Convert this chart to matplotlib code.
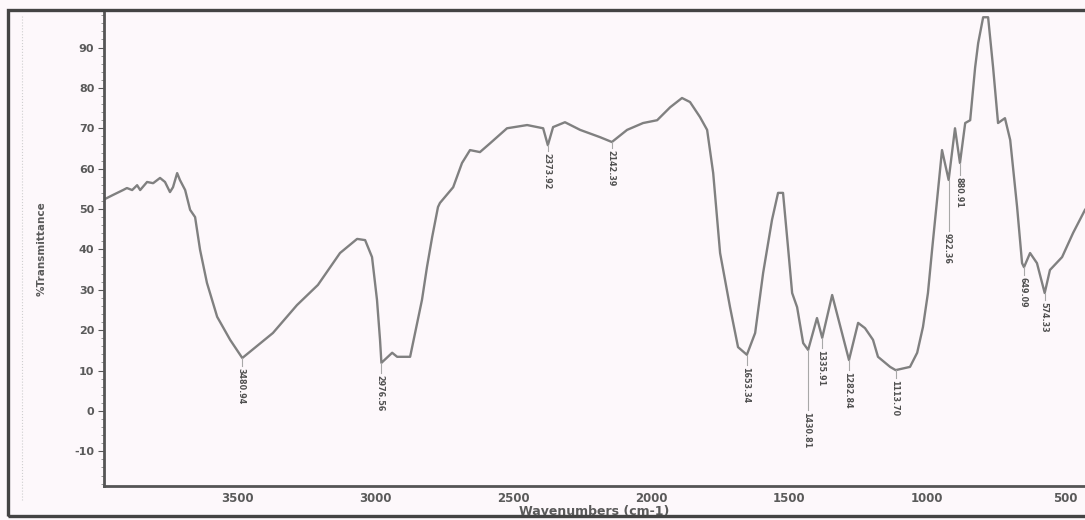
import numpy as np
import matplotlib
matplotlib.use("Agg")
import matplotlib.pyplot as plt
from matplotlib.patches import Rectangle
from matplotlib.lines import Line2D
from matplotlib.ticker import MultipleLocator

plt.rcParams["axes.unicode_minus"] = False

# spectrum (wavenumber cm-1, %T)
wavenumber = [3978, 3949, 3913, 3899, 3880, 3862, 3851, 3826, 3804, 3779, 3761, 3743, 3732, 3717,
              3707, 3688, 3670, 3652, 3634, 3609, 3572, 3525, 3481, 3370, 3283, 3207, 3127, 3065,
              3036, 3011, 2993, 2982, 2977, 2938, 2920, 2873, 2855, 2830, 2812, 2793, 2772, 2765,
              2717, 2685, 2656, 2620, 2583, 2522, 2449, 2391, 2374, 2355, 2337, 2312, 2257, 2185,
              2142, 2087, 2029, 1978, 1931, 1888, 1859, 1823, 1797, 1775, 1750, 1714, 1685, 1653,
              1623, 1594, 1562, 1540, 1522, 1504, 1489, 1471, 1449, 1431, 1399, 1380, 1344, 1283,
              1250, 1225, 1196, 1178, 1134, 1114, 1062, 1036, 1015, 997, 982, 964, 946, 922, 899,
              881, 862, 844, 826, 815, 797, 779, 761, 743, 718, 699, 674, 656, 649, 627, 602, 574,
              555, 511, 471, 428]
transmittance = [52.5, 53.5, 54.7, 55.2, 54.7, 55.9, 54.7, 56.7, 56.4, 57.7, 56.7, 54.2, 55.4, 58.9,
                 57.2, 54.7, 49.8, 48.0, 39.9, 31.7, 23.3, 17.6, 13.1, 19.3, 26.2, 31.2, 39.1, 42.6,
                 42.3, 38.1, 27.5, 17.6, 11.9, 14.4, 13.4, 13.4, 19.3, 27.5, 35.6, 43.1, 50.5, 51.5,
                 55.4, 61.4, 64.6, 64.1, 66.3, 70.0, 70.8, 70.0, 65.8, 70.3, 70.8, 71.5, 69.6, 67.8,
                 66.6, 69.6, 71.3, 72.0, 75.2, 77.5, 76.5, 72.8, 69.6, 58.9, 39.1, 25.7, 15.8, 13.9,
                 19.3, 34.2, 47.3, 54.0, 54.0, 40.6, 29.2, 25.7, 16.8, 15.1, 23.0, 18.1, 28.7, 12.6,
                 21.8, 20.5, 17.6, 13.4, 10.9, 10.1, 10.9, 14.4, 20.8, 29.2, 39.9, 52.2, 64.6, 57.2, 70.0,
                 61.4, 71.3, 72.0, 85.1, 91.1, 97.5, 97.5, 85.1, 71.3, 72.5, 67.1, 50.5, 36.6, 35.6, 39.1,
                 36.6, 29.2, 34.9, 38.1, 44.1, 49.8]

# peak labels: text, wavenumber of the marker line, %T of the text top
peak_labels = ["3480.94", "2976.56", "2373.92", "2142.39", "1653.34", "1430.81", "1335.91",
               "1282.84", "1113.70", "922.36", "880.91", "649.09", "574.33"]
peak_x = [3481, 2977, 2374, 2142, 1653, 1431, 1380, 1283, 1114, 922, 881, 649, 574]
label_top = [10.6, 8.9, 63.9, 64.6, 10.9, -0.2, 15.1, 9.7, 7.7, 44.1, 57.9, 33.2, 27.0]

xticks = [3500, 3000, 2500, 2000, 1500, 1000, 500]
yticks = [-10, 0, 10, 20, 30, 40, 50, 60, 70, 80, 90]

fig = plt.figure(figsize=(10.85, 5.2), dpi=100)
fig.patch.set_facecolor("#fdf8fb")
ax = fig.add_axes([104 / 1085, 34 / 520, 1 - 104 / 1085, 474 / 520])
ax.set_facecolor("none")

line_c = "#808080"
ax.plot(wavenumber, transmittance, color=line_c, lw=1.7, solid_joinstyle="round")

for txt, x, top in zip(peak_labels, peak_x, label_top):
    ydip = np.interp(x, wavenumber[::-1], transmittance[::-1])
    ax.plot([x, x], [ydip, top + 0.5], color="#a8a8a8", lw=0.8)
    ax.text(x + 4, top, txt, rotation=-90, ha="center", va="top", fontsize=5.8,
            color="#505050", fontweight="bold")

ax.set_xlim(3982, 428)
ax.set_ylim(-18.6, 98.8)
ax.set_xticks(xticks)
ax.set_yticks(yticks)
ax.yaxis.set_minor_locator(MultipleLocator(2))
ax.tick_params(axis="both", colors="#5a5a5a", width=0.8)
ax.tick_params(axis="y", which="major", length=4, pad=3, labelsize=8)
ax.tick_params(axis="y", which="minor", length=2, color="#888888")
ax.tick_params(axis="x", length=0, pad=4, labelsize=8.5)
for lab in ax.get_xticklabels() + ax.get_yticklabels():
    lab.set_fontweight("bold")

for s in ["top", "right"]:
    ax.spines[s].set_visible(False)
for s in ["left", "bottom"]:
    ax.spines[s].set_color("#555555")
    ax.spines[s].set_linewidth(2)

ax.set_xlabel("Wavenumbers (cm-1)", fontsize=9, color="#5a5a5a", labelpad=0, fontweight="bold")
ax.set_ylabel("%Transmittance", fontsize=7.5, color="#5a5a5a", labelpad=20, fontweight="bold")

# outer frame of the scanned sheet, plus the faint guide line near its left edge
fig.patches.append(Rectangle((8 / 1085, 4 / 520), 1.2, 506 / 520, transform=fig.transFigure,
                             fill=False, edgecolor="#444444", lw=2.4))
fig.lines.append(Line2D([22 / 1085, 22 / 1085], [20 / 520, 505 / 520], transform=fig.transFigure,
                        color="#cfcfcf", lw=0.8, ls=":"))

fig.savefig("out.png", dpi=100, facecolor=fig.get_facecolor())
